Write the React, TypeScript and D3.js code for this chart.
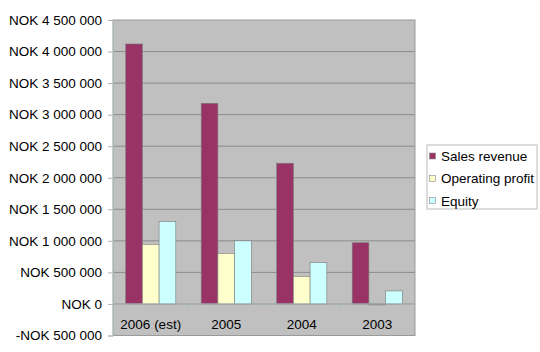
import React, { useRef, useEffect } from "react";
import * as d3 from "d3";

const years = ["2006 (est)", "2005", "2004", "2003"];
const seriesNames = ["Sales revenue", "Operating profit", "Equity"];
const salesRevenue = [4120000, 3180000, 2230000, 970000];
const operatingProfit = [943000, 800000, 437000, -15000];
const equity = [1307000, 1000000, 658000, 206000];
const yTicks = [-500000, 0, 500000, 1000000, 1500000, 2000000, 2500000, 3000000, 3500000, 4000000, 4500000];

const colors = ["#993366", "#ffffcc", "#ccffff"];

function fmt(v: number) {
  const s = Math.abs(v).toString().replace(/\B(?=(\d{3})+(?!\d))/g, " ");
  return (v < 0 ? "-" : "") + "NOK " + s;
}

export default function App() {
  const svgRef = useRef<SVGSVGElement>(null);

  useEffect(() => {
    const svg = d3.select(svgRef.current);
    svg.selectAll("*").remove();

    const left = 113, right = 415, top = 20, bottom = 335.5;
    const font = "'Liberation Sans', Arial, sans-serif";

    const x = d3.scaleBand().domain(years).range([left, right]).paddingInner(0).paddingOuter(0);
    const y = d3.scaleLinear().domain([-500000, 4500000]).range([bottom, top]);
    const inner = d3.scaleBand().domain(seriesNames).range([0, x.bandwidth()]).paddingInner(0).paddingOuter(0.76);

    // plot background
    svg.append("rect")
      .attr("x", left).attr("y", top)
      .attr("width", right - left).attr("height", bottom - top)
      .attr("fill", "#c0c0c0").attr("stroke", "#9a9a9a").attr("stroke-width", 1);

    // grid
    svg.append("g")
      .selectAll("line")
      .data(yTicks.filter(t => t > -500000 && t < 4500000))
      .join("line")
      .attr("x1", left).attr("x2", right)
      .attr("y1", d => y(d)).attr("y2", d => y(d))
      .attr("stroke", "#8c8c8c").attr("stroke-width", 1);

    // y axis
    const yAxis = svg.append("g")
      .attr("transform", `translate(${left},0)`)
      .call(d3.axisLeft(y).tickValues(yTicks).tickFormat(d => fmt(+d)).tickSize(5).tickPadding(6));
    yAxis.select(".domain").attr("stroke", "#a8b8b8");
    yAxis.selectAll(".tick line").attr("stroke", "#a8b8b8");
    yAxis.selectAll("text").attr("font-family", font).attr("font-size", 13.5).attr("fill", "#000");

    const all = [salesRevenue, operatingProfit, equity];
    const rows = years.map((yr, i) => ({ yr, vals: all.map(s => s[i]) }));

    const groups = svg.append("g").selectAll("g").data(rows).join("g")
      .attr("transform", d => `translate(${x(d.yr)},0)`);
    groups.selectAll("rect")
      .data(d => d.vals.map((v, k) => ({ v, k })))
      .join("rect")
      .attr("x", d => inner(seriesNames[d.k])!)
      .attr("width", inner.bandwidth())
      .attr("y", d => y(Math.max(0, d.v)))
      .attr("height", d => Math.max(1, Math.abs(y(d.v) - y(0))))
      .attr("fill", d => (d.v < 0 ? "#8c8c5a" : colors[d.k]))
      .attr("stroke", "#7a7a7a").attr("stroke-width", 0.6);

    // zero axis line
    svg.append("line")
      .attr("x1", left).attr("x2", right)
      .attr("y1", y(0)).attr("y2", y(0))
      .attr("stroke", "#a8b8b8").attr("stroke-width", 1);
    svg.append("g").selectAll("line")
      .data(years.slice(1))
      .join("line")
      .attr("x1", d => x(d)!).attr("x2", d => x(d)!)
      .attr("y1", y(0)).attr("y2", y(0) + 4)
      .attr("stroke", "#a8b8b8");

    // category labels
    svg.append("g").selectAll("text")
      .data(years)
      .join("text")
      .attr("x", d => x(d)! + x.bandwidth() / 2)
      .attr("y", y(0) + 25)
      .attr("text-anchor", "middle")
      .attr("font-family", font).attr("font-size", 13.5)
      .text(d => d);

    // legend
    const lg = svg.append("g").attr("transform", "translate(427,145)");
    lg.append("rect").attr("width", 110).attr("height", 64)
      .attr("fill", "#fff").attr("stroke", "#bbbbbb");
    const items = lg.selectAll("g.item").data(seriesNames).join("g")
      .attr("class", "item")
      .attr("transform", (d, i) => `translate(0,${11 + i * 22.3})`);
    items.append("rect").attr("x", 2.5).attr("y", -3).attr("width", 6).attr("height", 6)
      .attr("fill", (d, i) => colors[i]).attr("stroke", "#8a8a8a").attr("stroke-width", 0.6);
    items.append("text").attr("x", 14).attr("y", 5)
      .attr("font-family", font).attr("font-size", 13.5)
      .text(d => d);
  }, []);

  return (
    <svg ref={svgRef} width={540} height={352}
      style={{ position: "absolute", left: 0, top: 0, background: "#fff" }} />
  );
}
